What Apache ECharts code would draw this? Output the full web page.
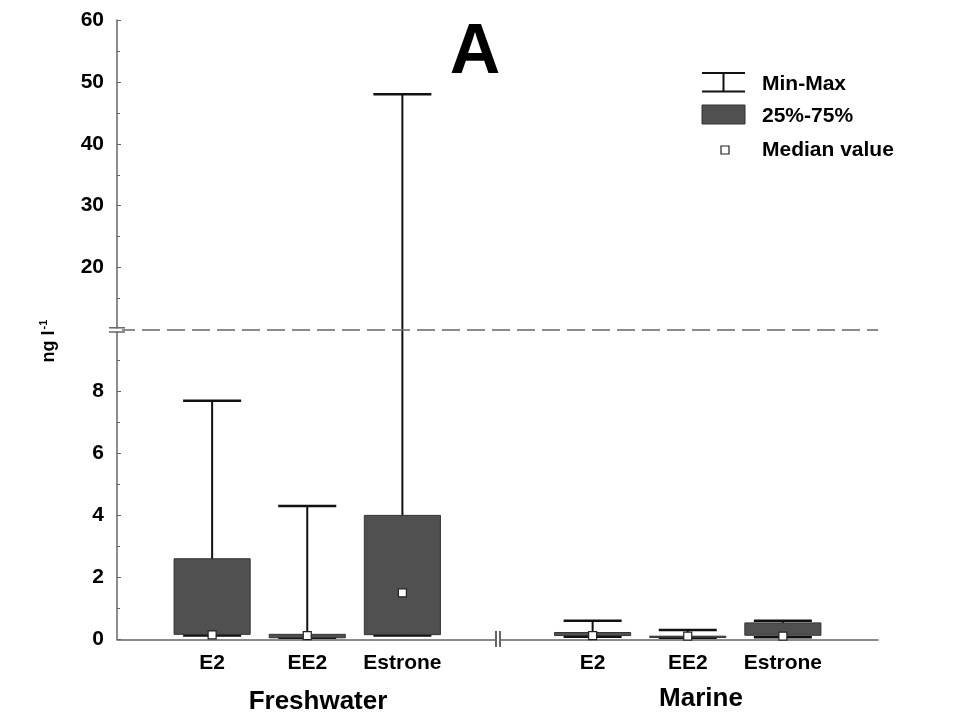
<!DOCTYPE html>
<html>
<head>
<meta charset="utf-8">
<script src="https://cdn.jsdelivr.net/npm/echarts@6/dist/echarts.min.js"></script>
<style>html,body{margin:0;padding:0;background:#fff;}#c{width:955px;height:719px;}</style>
</head>
<body>
<div id="c"></div>
<script>
// ---- data ----
const categories = ['E2', 'EE2', 'Estrone', 'E2', 'EE2', 'Estrone'];
const xPositions = [1, 2, 3, 5, 6, 7];
const groups = ['Freshwater', 'Marine'];
const minValues = [0.12, 0.05, 0.12, 0.08, 0.05, 0.07];
const q1Values  = [0.16, 0.05, 0.15, 0.12, 0.06, 0.13];
const medianValues = [0.14, 0.12, 1.5, 0.12, 0.1, 0.1];
const q3Values  = [2.6, 0.16, 4.0, 0.22, 0.1, 0.53];
const maxValues = [7.7, 4.3, 48, 0.6, 0.3, 0.6];
const lowerTicks = [0, 2, 4, 6, 8];
const upperTicks = [20, 30, 40, 50, 60];
const breakValue = 10;

const FONT = 'Liberation Sans, Arial, sans-serif';
const rows = xPositions.map((x, i) => [x, minValues[i], q1Values[i], medianValues[i], q3Values[i], maxValues[i]]);

function makeRender(lo, hi) {
  return function (params, api) {
    const x = api.value(0);
    const mn = api.value(1), q1 = api.value(2), md = api.value(3), q3 = api.value(4), mx = api.value(5);
    const unit = api.size([1, 0])[0];
    const boxW = unit * 0.8, capW = unit * 0.61;
    const cl = v => Math.max(lo, Math.min(hi, v));
    const cx = api.coord([x, cl(mn)])[0];
    const Y = v => api.coord([x, cl(v)])[1];
    const children = [];
    const lineStyle = { stroke: '#111', lineWidth: 2 };
    if (mx >= lo && mn <= hi) {
      children.push({ type: 'line', shape: { x1: cx, y1: Y(mn), x2: cx, y2: Y(mx) }, style: lineStyle });
    }
    if (mx >= lo && mx <= hi) {
      children.push({ type: 'line', shape: { x1: cx - capW / 2, y1: Y(mx), x2: cx + capW / 2, y2: Y(mx) }, style: { stroke: '#111', lineWidth: 2.5 } });
    }
    if (mn >= lo && mn <= hi) {
      children.push({ type: 'line', shape: { x1: cx - capW / 2, y1: Y(mn), x2: cx + capW / 2, y2: Y(mn) }, style: { stroke: '#111', lineWidth: 2.5 } });
    }
    if (q3 >= lo && q1 <= hi) {
      const top = Y(q3), bot = Y(q1);
      children.push({ type: 'rect', shape: { x: cx - boxW / 2, y: top, width: boxW, height: Math.max(1, bot - top) },
        style: { fill: '#505050', stroke: '#333', lineWidth: 1 } });
    }
    if (md >= lo && md <= hi) {
      const my = Y(md);
      children.push({ type: 'rect', shape: { x: cx - 4, y: my - 4, width: 8, height: 8 },
        style: { fill: '#fff', stroke: '#222', lineWidth: 1.2 } });
    }
    return { type: 'group', children: children };
  };
}

const chart = echarts.init(document.getElementById('c'));
const axisLineStyle = { color: '#666', width: 1.5 };
const commonX = {
  type: 'value', min: 0, max: 8, interval: 1,
  splitLine: { show: false }
};
chart.setOption({
  backgroundColor: '#fff',
  animation: false,
  grid: [
    { left: 117, right: 77, top: 20, height: 309.5 },
    { left: 117, right: 77, top: 329.5, height: 309.8 }
  ],
  xAxis: [
    Object.assign({ gridIndex: 0, show: false }, commonX),
    Object.assign({ gridIndex: 1,
      axisLine: { show: true, onZero: false, lineStyle: axisLineStyle },
      axisTick: { show: false },
      axisLabel: {
        margin: 13, color: '#000', fontFamily: FONT, fontWeight: 'bold', fontSize: 21,
        formatter: v => { const i = xPositions.indexOf(v); return i >= 0 ? categories[i] : ''; }
      }
    }, commonX)
  ],
  yAxis: [
    { gridIndex: 0, type: 'value', min: breakValue, max: 60, interval: 10,
      axisLine: { show: true, lineStyle: axisLineStyle },
      axisTick: { show: true, inside: true, length: 4, lineStyle: { color: '#666' } },
      minorTick: { show: true, splitNumber: 2, length: 3, lineStyle: { color: '#666' } },
      splitLine: { show: false },
      axisLabel: { margin: 13, color: '#000', fontFamily: FONT, fontWeight: 'bold', fontSize: 21,
        formatter: v => upperTicks.indexOf(v) >= 0 ? String(v) : '' } },
    { gridIndex: 1, type: 'value', min: 0, max: breakValue, interval: 2,
      axisLine: { show: true, lineStyle: axisLineStyle },
      axisTick: { show: true, inside: true, length: 4, lineStyle: { color: '#666' } },
      minorTick: { show: true, splitNumber: 2, length: 3, lineStyle: { color: '#666' } },
      splitLine: { show: false },
      axisLabel: { margin: 13, color: '#000', fontFamily: FONT, fontWeight: 'bold', fontSize: 21,
        formatter: v => lowerTicks.indexOf(v) >= 0 ? String(v) : '' } }
  ],
  series: [
    { type: 'custom', xAxisIndex: 0, yAxisIndex: 0, data: rows, renderItem: makeRender(breakValue, 60),
      encode: { x: 0, y: [1, 2, 3, 4, 5] }, z: 3 },
    { type: 'custom', xAxisIndex: 1, yAxisIndex: 1, data: rows, renderItem: makeRender(0, breakValue),
      encode: { x: 0, y: [1, 2, 3, 4, 5] }, z: 3,
      markLine: { silent: true, symbol: 'none', label: { show: false },
        lineStyle: { color: '#666', type: [18, 7], width: 1.5 },
        data: [{ yAxis: breakValue }] } }
  ],
  graphic: [
    // panel letter
    { type: 'text', x: 475, y: 54, style: { text: 'A', fontFamily: FONT, fontWeight: 'bold', fontSize: 70, fill: '#000', align: 'center', verticalAlign: 'middle' } },
    // y-axis title
    { type: 'text', x: 49, y: 341, rotation: Math.PI / 2, style: {
        text: '{a|ng l}{s|-1}', fontFamily: FONT, fontWeight: 'bold', align: 'center', verticalAlign: 'middle', fill: '#000',
        rich: { a: { fontSize: 18, fontWeight: 'bold', fontFamily: FONT, fill: '#000' },
                s: { fontSize: 11, fontWeight: 'bold', fontFamily: FONT, fill: '#000', verticalAlign: 'top', padding: [0, 0, 10, 1] } } } },
    // group labels
    { type: 'text', x: 318, y: 702, style: { text: groups[0], fontFamily: FONT, fontWeight: 'bold', fontSize: 26, fill: '#000', align: 'center', verticalAlign: 'middle' } },
    { type: 'text', x: 701, y: 699, style: { text: groups[1], fontFamily: FONT, fontWeight: 'bold', fontSize: 26, fill: '#000', align: 'center', verticalAlign: 'middle' } },
    // y-axis break
    { type: 'rect', shape: { x: 112, y: 328.5, width: 10, height: 3 }, style: { fill: '#fff' }, z: 100 },
    { type: 'line', shape: { x1: 109, y1: 327.8, x2: 125, y2: 327.8 }, style: { stroke: '#666', lineWidth: 1.5 }, z: 101 },
    { type: 'line', shape: { x1: 109, y1: 332, x2: 125, y2: 332 }, style: { stroke: '#666', lineWidth: 1.5 }, z: 101 },
    // x-axis break
    { type: 'rect', shape: { x: 496.5, y: 634, width: 3, height: 10 }, style: { fill: '#fff' }, z: 100 },
    { type: 'line', shape: { x1: 496, y1: 631, x2: 496, y2: 647 }, style: { stroke: '#666', lineWidth: 2 }, z: 101 },
    { type: 'line', shape: { x1: 500, y1: 631, x2: 500, y2: 647 }, style: { stroke: '#666', lineWidth: 2 }, z: 101 },
    // legend
    { type: 'line', shape: { x1: 702, y1: 73, x2: 745, y2: 73 }, style: { stroke: '#111', lineWidth: 2 } },
    { type: 'line', shape: { x1: 723.5, y1: 73, x2: 723.5, y2: 91.5 }, style: { stroke: '#111', lineWidth: 2 } },
    { type: 'line', shape: { x1: 702, y1: 91.5, x2: 745, y2: 91.5 }, style: { stroke: '#111', lineWidth: 2 } },
    { type: 'rect', shape: { x: 702, y: 105, width: 43, height: 19 }, style: { fill: '#505050', stroke: '#333', lineWidth: 1 } },
    { type: 'rect', shape: { x: 721, y: 146, width: 8, height: 8 }, style: { fill: '#fff', stroke: '#222', lineWidth: 1.2 } },
    { type: 'text', x: 762, y: 84, style: { text: 'Min-Max', fontFamily: FONT, fontWeight: 'bold', fontSize: 21, fill: '#000', verticalAlign: 'middle' } },
    { type: 'text', x: 762, y: 116, style: { text: '25%-75%', fontFamily: FONT, fontWeight: 'bold', fontSize: 21, fill: '#000', verticalAlign: 'middle' } },
    { type: 'text', x: 762, y: 150, style: { text: 'Median value', fontFamily: FONT, fontWeight: 'bold', fontSize: 21, fill: '#000', verticalAlign: 'middle' } }
  ]
});
</script>
</body>
</html>
